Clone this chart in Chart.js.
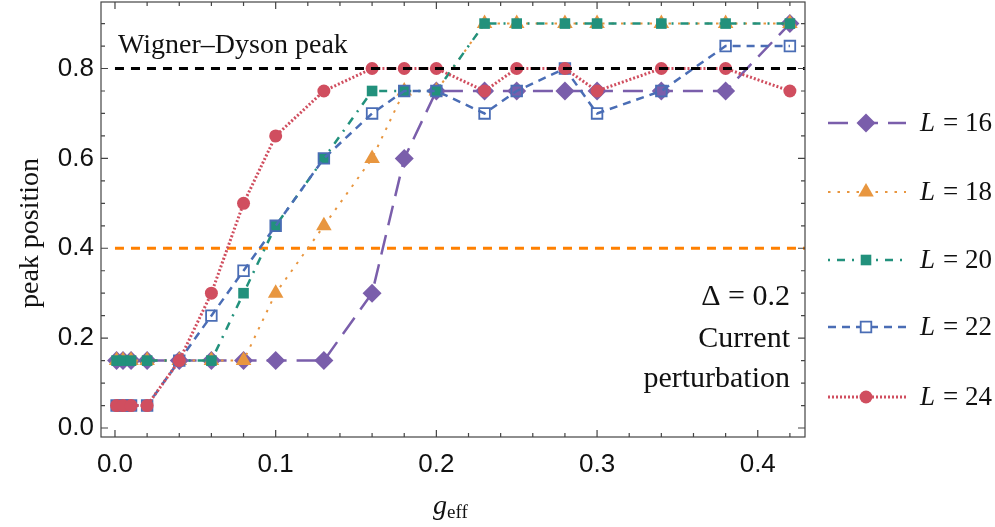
<!DOCTYPE html>
<html>
<head>
<meta charset="utf-8">
<script src="https://cdn.jsdelivr.net/npm/chart.js@4/dist/chart.umd.min.js"></script>
<style>
  body { margin: 0; background: #fff; }
  canvas { display: block; }
</style>
</head>
<body>
<canvas id="peakcanvas" width="995" height="527"></canvas>
<script>
// x values (g_eff) shared by all series
const gEff = [0.001, 0.005, 0.01, 0.02, 0.04, 0.06, 0.08, 0.1, 0.13, 0.16, 0.18, 0.2, 0.23, 0.25, 0.28, 0.3, 0.34, 0.38, 0.42];

// peak position for each system size
const L16 = [0.15, 0.15, 0.15, 0.15, 0.15, 0.15, 0.15, 0.15, 0.15, 0.3, 0.6, 0.75, 0.75, 0.75, 0.75, 0.75, 0.75, 0.75, 0.9];
const L18 = [0.15, 0.15, 0.15, 0.15, 0.15, 0.15, 0.15, 0.3, 0.45, 0.6, 0.75, 0.75, 0.9, 0.9, 0.9, 0.9, 0.9, 0.9, 0.9];
const L20 = [0.15, 0.15, 0.15, 0.15, 0.15, 0.15, 0.3, 0.45, 0.6, 0.75, 0.75, 0.75, 0.9, 0.9, 0.9, 0.9, 0.9, 0.9, 0.9];
const L22 = [0.05, 0.05, 0.05, 0.05, 0.15, 0.25, 0.35, 0.45, 0.6, 0.7, 0.75, 0.75, 0.7, 0.75, 0.8, 0.7, 0.75, 0.85, 0.85];
const L24 = [0.05, 0.05, 0.05, 0.05, 0.15, 0.3, 0.5, 0.65, 0.75, 0.8, 0.8, 0.8, 0.75, 0.8, 0.8, 0.75, 0.8, 0.8, 0.75];

const seriesNames = ["16", "18", "20", "22", "24"];

// horizontal reference lines
const refX = [0, 0.43];
const wignerDyson = 0.8;
const lowLine = 0.4;

// tick labels
const xTicks = [0, 0.1, 0.2, 0.3, 0.4];
const yTicks = [0, 0.2, 0.4, 0.6, 0.8];

const styles = [
    { color: "#7a5eab", dash: [20, 10], width: 2.5, point: "rectRot", r: 9.5, fill: true },
    { color: "#e8963f", dash: [2.5, 7], width: 2, point: "triangle", r: 9, fill: true },
    { color: "#22917c", dash: [2, 7, 8, 7], width: 2.5, point: "rect", r: 7.5, fill: true },
    { color: "#4a6db5", dash: [8, 6], width: 2.5, point: "rect", r: 7.5, fill: false },
    { color: "#d04e5f", dash: [2, 2], width: 3, point: "circle", r: 6.5, fill: true }
];

const allSeries = [L16, L18, L20, L22, L24];

var datasets = allSeries.map(function (vals, i) {
    var s = styles[i];
    return {
        label: "L = " + seriesNames[i],
        data: gEff.map(function (x, k) { return { x: x, y: vals[k] }; }),
        borderColor: s.color,
        borderWidth: s.width,
        borderDash: s.dash,
        pointStyle: s.point,
        pointRadius: s.r,
        pointHoverRadius: s.r,
        pointBackgroundColor: s.fill ? s.color : "rgba(0,0,0,0)",
        pointBorderColor: s.color,
        pointBorderWidth: s.fill ? 0 : 1.8,
        tension: 0,
        fill: false,
        order: 5 - i
    };
});

datasets.push({
    label: "wd",
    data: refX.map(function (x) { return { x: x, y: wignerDyson }; }),
    borderColor: "#000000",
    borderWidth: 3,
    borderDash: [9, 7],
    pointRadius: 0,
    order: 0
});
datasets.push({
    label: "low",
    data: refX.map(function (x) { return { x: x, y: lowLine }; }),
    borderColor: "#ff8000",
    borderWidth: 3,
    borderDash: [9, 7],
    pointRadius: 0,
    order: 6
});

// frame, inward ticks, texts and legend
const decor = {
    id: "decor",
    afterDraw: function (chart) {
        var ctx = chart.ctx;
        var a = chart.chartArea;
        var xs = chart.scales.x, ys = chart.scales.y;
        ctx.save();
        ctx.strokeStyle = "#444";
        ctx.lineWidth = 1.2;
        ctx.setLineDash([]);
        ctx.strokeRect(a.left, a.top, a.right - a.left, a.bottom - a.top);
        // x ticks
        for (var k = 0; k <= 21; k++) {
            var v = k * 0.02;
            var px = xs.getPixelForValue(v);
            var len = (k % 5 === 0) ? 7 : 4;
            ctx.beginPath();
            ctx.moveTo(px, a.bottom); ctx.lineTo(px, a.bottom - len);
            ctx.moveTo(px, a.top); ctx.lineTo(px, a.top + len);
            ctx.stroke();
        }
        // y ticks
        for (var j = 0; j <= 18; j++) {
            var w = j * 0.05;
            var py = ys.getPixelForValue(w);
            var ln = (j % 4 === 0) ? 7 : 4;
            ctx.beginPath();
            ctx.moveTo(a.left, py); ctx.lineTo(a.left + ln, py);
            ctx.moveTo(a.right, py); ctx.lineTo(a.right - ln, py);
            ctx.stroke();
        }

        ctx.fillStyle = "#111";
        ctx.textBaseline = "alphabetic";
        ctx.font = "28px 'Liberation Serif'";
        ctx.textAlign = "left";
        ctx.fillText("Wigner\u2013Dyson peak", 118, 53);

        ctx.textAlign = "right";
        ctx.font = "30px 'Liberation Serif'";
        ctx.fillText("\u0394 = 0.2", 790, 305);
        ctx.fillText("Current", 790, 347);
        ctx.fillText("perturbation", 790, 387);

        // axis titles
        ctx.save();
        ctx.translate(31, 233);
        ctx.rotate(-Math.PI / 2);
        ctx.textAlign = "center";
        ctx.textBaseline = "middle";
        ctx.font = "28px 'Liberation Serif'";
        ctx.fillText("peak position", 0, 0);
        ctx.restore();

        ctx.textAlign = "left";
        ctx.font = "italic 28px 'Liberation Serif'";
        ctx.fillText("g", 433, 514);
        ctx.font = "19px 'Liberation Serif'";
        ctx.fillText("eff", 447, 518);

        // legend
        var legY = [123, 192, 260, 327, 397];
        styles.forEach(function (s, i) {
            var y = legY[i];
            ctx.strokeStyle = s.color;
            ctx.lineWidth = s.width;
            ctx.setLineDash(s.dash);
            ctx.beginPath();
            ctx.moveTo(828, y); ctx.lineTo(906, y);
            ctx.stroke();
            ctx.setLineDash([]);
            ctx.fillStyle = s.fill ? s.color : "#ffffff";
            ctx.lineWidth = s.fill ? 0 : 1.8;
            Chart.helpers.drawPoint(ctx, { pointStyle: s.point, rotation: 0, radius: s.r, borderWidth: s.fill ? 0 : 1.8 }, 866, y);
            ctx.fillStyle = "#111";
            ctx.font = "italic 27px 'Liberation Serif'";
            ctx.textAlign = "left";
            ctx.fillText("L", 920, y + 8);
            ctx.font = "27px 'Liberation Serif'";
            ctx.fillText("= " + seriesNames[i], 943, y + 8);
        });
        ctx.restore();
    }
};

window.onload = function () {
    var ctx1 = document.getElementById("peakcanvas").getContext("2d");
    window.myChart = new Chart(ctx1, {
        type: "line",
        data: { datasets: datasets },
        options: {
            responsive: false,
            animation: false,
            layout: { autoPadding: false, padding: { left: 0, right: 190, top: 2, bottom: 0 } },
            plugins: { legend: { display: false }, tooltip: { enabled: false } },
            scales: {
                x: {
                    type: "linear",
                    min: -0.0087,
                    max: 0.4294,
                    grid: { display: false, drawTicks: false },
                    border: { display: false },
                    afterBuildTicks: function (s) { s.ticks = xTicks.map(function (v) { return { value: v }; }); },
                    afterFit: function (s) { s.height = 90; s.paddingLeft = 0; s.paddingRight = 0; },
                    ticks: {
                        autoSkip: false,
                        maxRotation: 0,
                        padding: 12,
                        color: "#111",
                        font: { family: "'Liberation Sans'", size: 26 },
                        callback: function (v) { return Number(v).toFixed(1); }
                    }
                },
                y: {
                    type: "linear",
                    min: -0.02,
                    max: 0.948,
                    grid: { display: false, drawTicks: false },
                    border: { display: false },
                    afterBuildTicks: function (s) { s.ticks = yTicks.map(function (v) { return { value: v }; }); },
                    afterFit: function (s) { s.width = 101; s.paddingTop = 0; s.paddingBottom = 0; },
                    ticks: {
                        autoSkip: false,
                        padding: 7,
                        color: "#111",
                        font: { family: "'Liberation Sans'", size: 26 },
                        callback: function (v) { return Number(v).toFixed(1); }
                    }
                }
            }
        },
        plugins: [decor]
    });
};
</script>
</body>
</html>
